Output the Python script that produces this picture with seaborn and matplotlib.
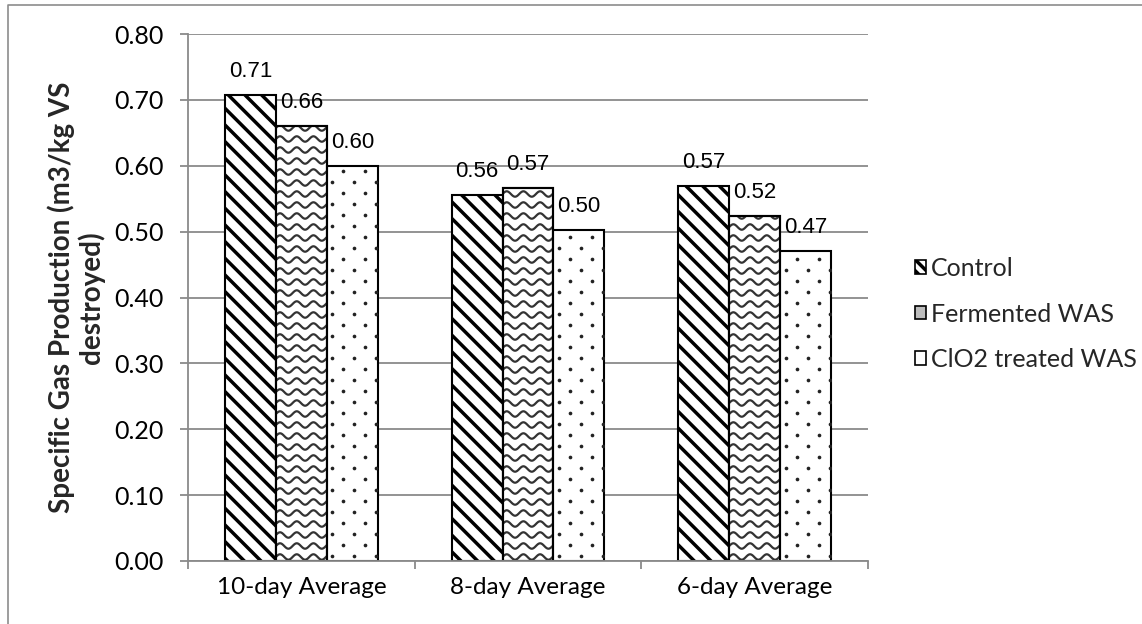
import numpy as np
import pandas as pd
import matplotlib
matplotlib.use("Agg")
import matplotlib.pyplot as plt
import seaborn as sns
from matplotlib.patches import Patch, Rectangle
from matplotlib.lines import Line2D

# ---------------- data ----------------
categories = ["10-day Average", "8-day Average", "6-day Average"]
series = ["Control", "Fermented WAS", "ClO2 treated WAS"]
control = [0.707, 0.556, 0.569]
fermented = [0.660, 0.566, 0.523]
clo2 = [0.599, 0.503, 0.471]
yticks = [0.00, 0.10, 0.20, 0.30, 0.40, 0.50, 0.60, 0.70, 0.80]
ylabel = "Specific Gas Production (m3/kg VS\ndestroyed)"

# ---------------- style ----------------
sns.set_theme(style="white")
plt.rcParams["font.family"] = ["Lato", "DejaVu Sans"]
plt.rcParams["hatch.linewidth"] = 2.5

GRID = "#8a8a8a"
W, H, DPI = 1142, 624, 100

df = pd.DataFrame({
    "category": categories * 3,
    "series": sum([[s] * len(categories) for s in series], []),
    "value": control + fermented + clo2,
})

fig = plt.figure(figsize=(W / DPI, H / DPI), dpi=DPI)
ax_l, ax_r, ax_t, ax_b = 188, 868, 34, 561
ax = fig.add_axes([ax_l / W, 1 - ax_b / H, (ax_r - ax_l) / W, (ax_b - ax_t) / H])

sns.barplot(data=df, x="category", y="value", hue="series", order=categories,
            hue_order=series, palette=["white"] * 3, saturation=1,
            width=0.674, gap=0, errorbar=None, edgecolor="black",
            linewidth=1.5, legend=False, ax=ax)

ax.set_xlim(-0.5, len(categories) - 0.5)
ax.set_ylim(yticks[0], yticks[-1])

px_x = (ax_r - ax_l) / len(categories)           # pixels per x unit
px_y = (ax_b - ax_t) / (yticks[-1] - yticks[0])  # pixels per y unit

# control: diagonal stripes
for p in ax.containers[0]:
    p.set_hatch("\\\\")

# fermented: wavy lines
for p in ax.containers[1]:
    x0, w, h = p.get_x(), p.get_width(), p.get_height()
    wpx, hpx = w * px_x, h * px_y
    xs_px = np.arange(0, wpx + 1, 0.5)
    base = 4.0
    while base < hpx + 6:
        ys_px = base + 2.7 * np.sin(2 * np.pi * xs_px / 16.7)
        ln, = ax.plot(x0 + xs_px / px_x, ys_px / px_y, color="#333333",
                      lw=1.6, zorder=p.get_zorder() + 0.1, solid_capstyle="butt")
        ln.set_clip_path(p)
        base += 11.0
    ax.add_patch(Rectangle((x0, 0), w, h, fill=False, edgecolor="black",
                           lw=1.5, zorder=p.get_zorder() + 0.2))

# ClO2: dots
for p in ax.containers[2]:
    x0, w, h = p.get_x(), p.get_width(), p.get_height()
    wpx, hpx = w * px_x, h * px_y
    pts = []
    row = 0
    ypx = 5.0
    while ypx < hpx:
        xpx = 5.5 + (11.0 if row % 2 else 0.0)
        while xpx < wpx:
            pts.append((x0 + xpx / px_x, ypx / px_y))
            xpx += 22.0
        ypx += 11.0
        row += 1
    pts = np.array(pts)
    sc = ax.scatter(pts[:, 0], pts[:, 1], s=7, color="#222222", linewidths=0,
                    zorder=p.get_zorder() + 0.1)
    sc.set_clip_path(p)

# data labels
for cont, vals in zip(ax.containers, [control, fermented, clo2]):
    for p, v in zip(cont, vals):
        ax.annotate(f"{v:.2f}", xy=(p.get_x() + p.get_width() / 2, v),
                    xytext=(0, 13), textcoords="offset points",
                    ha="center", va="baseline", fontsize=16,
                    family=["Liberation Sans", "DejaVu Sans"], color="black",
                    zorder=10)

# axes styling
ax.set_axisbelow(True)
ax.yaxis.grid(True, color=GRID, lw=1.3)
ax.xaxis.grid(False)
for s in ["top", "right"]:
    ax.spines[s].set_visible(False)
for s in ["left", "bottom"]:
    ax.spines[s].set_color(GRID)
    ax.spines[s].set_linewidth(1.3)

ax.set_yticks(yticks)
ax.set_yticklabels([f"{t:.2f}" for t in yticks])
ax.tick_params(axis="y", length=5.8, width=1.3, color=GRID, pad=12.0,
               labelsize=18, labelcolor="black", direction="out", left=True)
ax.set_xticks(range(len(categories)))
ax.set_xticklabels(categories)
ax.tick_params(axis="x", which="major", length=0, pad=11.5, labelsize=17.5,
               labelcolor="black")
ax.set_xticks(np.arange(-0.5, len(categories), 1.0), minor=True)
ax.tick_params(axis="x", which="minor", length=5.8, width=1.3, color=GRID,
               direction="out", bottom=True)

ax.set_xlabel("")
ax.set_ylabel(ylabel, fontsize=20, fontweight="bold", va="center",
              linespacing=1.1)
ax.yaxis.set_label_coords((76 - ax_l) / (ax_r - ax_l), 0.5)

# legend
handles = [
    Patch(facecolor="white", edgecolor="black", hatch="\\\\\\", lw=1.2),
    Patch(facecolor="#bdbdbd", edgecolor="black", lw=1.2),
    Patch(facecolor="white", edgecolor="black", lw=1.2),
]
fig.legend(handles, series, loc="center left",
           bbox_to_anchor=(915 / W, 1 - 314 / H), frameon=False,
           fontsize=18, handlelength=0.45, handleheight=0.45,
           handletextpad=0.2, labelspacing=0.9, borderpad=0,
           borderaxespad=0)

# outer chart border (top and left visible)
fig.add_artist(Line2D([8 / W, 8 / W, 1.01], [-0.01, 1 - 5 / H, 1 - 5 / H],
                      transform=fig.transFigure, color="#8c8c8c", lw=1.2))

fig.savefig("out.png", dpi=DPI)
